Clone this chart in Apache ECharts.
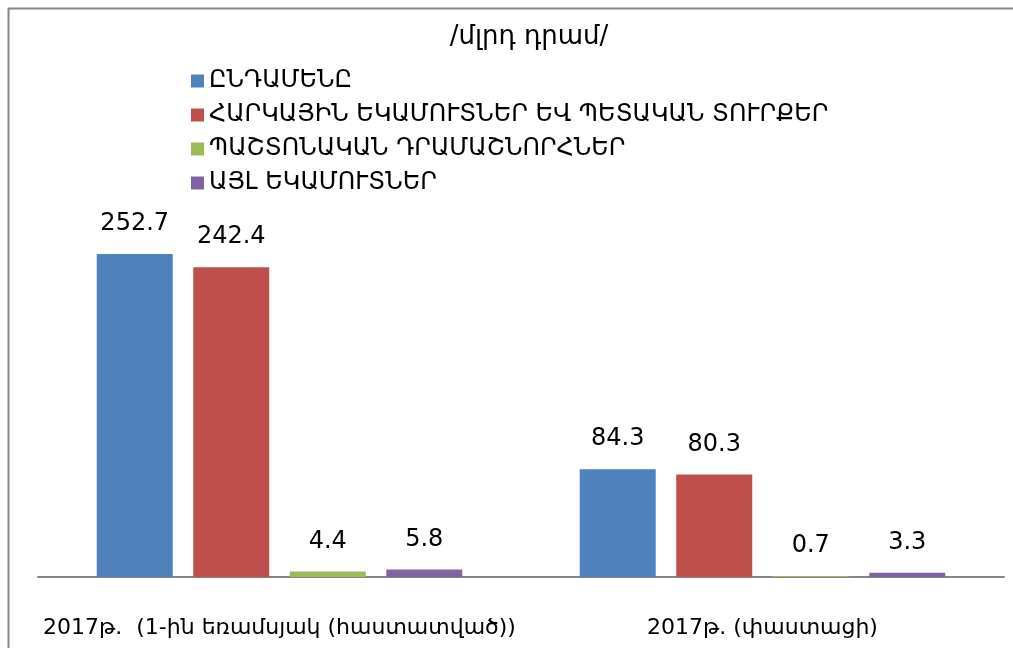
<!DOCTYPE html>
<html>
<head>
<meta charset="utf-8">
<script src="https://cdn.jsdelivr.net/npm/echarts@6/dist/echarts.min.js"></script>
<style>html,body{margin:0;padding:0;background:#fff}#c{width:1013px;height:648px}</style>
</head>
<body>
<div id="c"></div>
<script>
const categories = ['2017թ.  (1-ին եռամսյակ (հաստատված))', '2017թ. (փաստացի)'];
const seriesNames = ['ԸՆԴԱՄԵՆԸ', 'ՀԱՐԿԱՅԻՆ ԵԿԱՄՈՒՏՆԵՐ ԵՎ ՊԵՏԱԿԱՆ ՏՈՒՐՔԵՐ', 'ՊԱՇՏՈՆԱԿԱՆ ԴՐԱՄԱՇՆՈՐՀՆԵՐ', 'ԱՅԼ ԵԿԱՄՈՒՏՆԵՐ'];
const total = [252.7, 84.3];
const taxes = [242.4, 80.3];
const grants = [4.4, 0.7];
const other = [5.8, 3.3];
const colors = ['#4F81BD', '#C0504D', '#9BBB59', '#8064A2'];
const title = '/մլրդ դրամ/';

const font = '"DejaVu Sans", sans-serif';
const values = [total, taxes, grants, other];
const chart = echarts.init(document.getElementById('c'));
chart.setOption({
  animation: false,
  backgroundColor: '#fff',
  title: {text: title, left: 524, top: 19, textAlign: 'center',
    textStyle: {fontFamily: font, fontSize: 26, fontWeight: 'normal', color: '#000'}},
  legend: {orient: 'vertical', left: 186, top: 64, itemWidth: 13, itemHeight: 13, itemGap: 10,
    icon: 'rect', data: seriesNames,
    textStyle: {fontFamily: font, fontSize: 24, color: '#000', lineHeight: 24}},
  grid: {left: 38, right: 9, top: 193.6, bottom: 71, containLabel: false},
  xAxis: {type: 'category', data: categories,
    axisLine: {lineStyle: {color: '#868686', width: 2}}, axisTick: {show: false},
    axisLabel: {interval: 0, fontFamily: font, fontSize: 22, color: '#000', margin: 40}},
  yAxis: {type: 'value', min: 0, max: 300, show: false, splitLine: {show: false}},
  graphic: [
    {type: 'line', shape: {x1: 8, y1: 8.5, x2: 1013, y2: 8.5}, style: {stroke: '#868686', lineWidth: 2}},
    {type: 'line', shape: {x1: 8.5, y1: 8, x2: 8.5, y2: 648}, style: {stroke: '#868686', lineWidth: 2}}
  ],
  series: seriesNames.map((n, i) => ({
    name: n, type: 'bar', data: values[i], barWidth: 76, barGap: '27%',
    itemStyle: {color: colors[i]},
    label: {show: true, position: 'top', distance: 18, fontFamily: font, fontSize: 24, color: '#000',
      formatter: p => p.value.toFixed(1)}
  }))
});
</script>
</body>
</html>
